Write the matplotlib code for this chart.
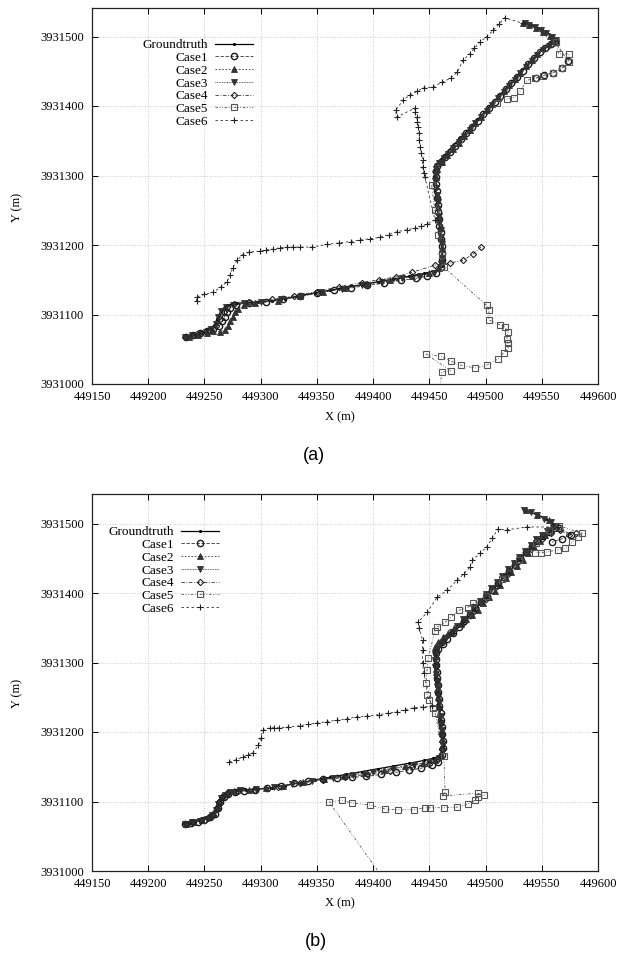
import numpy as np
import matplotlib
matplotlib.use("Agg")
import matplotlib.pyplot as plt

nan = np.nan

# ---------------- data ----------------
SERIES_NAMES = ["Groundtruth", "Case1", "Case2", "Case3", "Case4", "Case5", "Case6"]
X_TICKS = [449150, 449200, 449250, 449300, 449350, 449400, 449450, 449500, 449550, 449600]
Y_TICKS = [3931000, 3931100, 3931200, 3931300, 3931400, 3931500]
PANEL_LABELS = ["(a)", "(b)"]

GROUNDTRUTH = [
    (449233, 3931067), (449237, 3931069), (449242, 3931071), (449247, 3931073), (449252, 3931076),
    (449256, 3931080), (449259, 3931086), (449261, 3931093), (449263, 3931100), (449265, 3931106),
    (449268, 3931111), (449272, 3931114), (449278, 3931116), (449287, 3931117), (449298, 3931118),
    (449310, 3931120), (449322, 3931123), (449335, 3931127), (449348, 3931131), (449362, 3931135),
    (449376, 3931139), (449390, 3931143), (449404, 3931147), (449418, 3931151), (449432, 3931155),
    (449445, 3931159), (449453, 3931162), (449458, 3931165), (449461, 3931170), (449462, 3931180),
    (449461, 3931195), (449460, 3931210), (449459, 3931225), (449458, 3931240), (449457, 3931255),
    (449456, 3931270), (449455, 3931285), (449455, 3931300), (449455, 3931310), (449458, 3931320),
    (449464, 3931330), (449471, 3931343), (449480, 3931358), (449490, 3931375), (449500, 3931393),
    (449510, 3931411), (449520, 3931429), (449530, 3931447), (449540, 3931465), (449550, 3931481),
    (449558, 3931490), (449563, 3931494), (449560, 3931500), (449554, 3931507), (449547, 3931512),
    (449540, 3931516), (449534, 3931520),
]

# ---- panel (a) ----
CASE1_A = [
    (449234, 3931067), (449240, 3931070), (449246, 3931073), (449252, 3931076), (449258, 3931079),
    (449263, 3931083), (449266, 3931090), (449268, 3931097), (449270, 3931104), (449273, 3931110),
    (449278, 3931114), (449290, 3931116), (449305, 3931118), (449320, 3931122), (449335, 3931126),
    (449350, 3931131), (449365, 3931135), (449380, 3931138), (449395, 3931142), (449410, 3931145),
    (449425, 3931149), (449438, 3931152), (449448, 3931155), (449456, 3931160),
    (449460, 3931168), (449461, 3931178), (449461, 3931188), (449461, 3931198), (449460, 3931208),
    (449460, 3931218), (449459, 3931228), (449459, 3931238), (449458, 3931248), (449458, 3931258),
    (449457, 3931268), (449457, 3931278), (449456, 3931288), (449456, 3931298), (449456, 3931306),
    (449457, 3931314), (449460, 3931320), (449464, 3931327),
    (449468, 3931334), (449473, 3931343), (449478, 3931352), (449483, 3931361), (449488, 3931370),
    (449493, 3931379), (449498, 3931388), (449503, 3931397), (449508, 3931406), (449513, 3931415),
    (449518, 3931424), (449523, 3931433), (449528, 3931442), (449533, 3931451), (449538, 3931460),
    (449543, 3931469), (449548, 3931477), (449553, 3931484), (449558, 3931489), (449562, 3931492),
    (449573, 3931465), (449568, 3931454), (449560, 3931448), (449552, 3931444), (449545, 3931440),
]
CASE2_A = [
    (449236, 3931068), (449244, 3931071), (449252, 3931074), (449258, 3931076), (449264, 3931075),
    (449268, 3931078), (449271, 3931083), (449273, 3931090), (449275, 3931097), (449277, 3931103),
    (449280, 3931108), (449285, 3931113), (449295, 3931116), (449315, 3931120), (449335, 3931126),
    (449355, 3931132), (449375, 3931138), (449395, 3931144), (449415, 3931150), (449435, 3931155),
    (449450, 3931159), (449459, 3931167), (449461, 3931180), (449461, 3931195), (449460, 3931210),
    (449460, 3931225), (449459, 3931240), (449458, 3931255), (449457, 3931270), (449456, 3931285),
    (449456, 3931298), (449457, 3931310), (449461, 3931320), (449466, 3931329),
    (449471, 3931338), (449476, 3931347), (449481, 3931357), (449486, 3931366), (449491, 3931375),
    (449496, 3931384), (449501, 3931394), (449506, 3931403), (449511, 3931412), (449516, 3931421),
    (449521, 3931430), (449526, 3931439), (449531, 3931448), (449536, 3931457), (449541, 3931466),
    (449546, 3931475), (449551, 3931483), (449556, 3931489), (449561, 3931494), (449557, 3931501),
    (449551, 3931507), (449545, 3931512), (449539, 3931516), (449533, 3931520),
]
CASE3_A = [
    (449233, 3931067), (449239, 3931070), (449245, 3931072), (449251, 3931075), (449256, 3931079),
    (449260, 3931087), (449262, 3931096), (449265, 3931105), (449269, 3931111), (449275, 3931114),
    (449285, 3931116), (449300, 3931118), (449318, 3931122), (449336, 3931127), (449354, 3931132),
    (449372, 3931137), (449390, 3931142), (449408, 3931147), (449426, 3931152), (449442, 3931156),
    (449454, 3931160), (449460, 3931172), (449461, 3931182), (449461, 3931192), (449461, 3931202),
    (449460, 3931212), (449460, 3931222), (449459, 3931232), (449459, 3931242), (449458, 3931252),
    (449458, 3931262), (449457, 3931272), (449456, 3931282), (449455, 3931292), (449455, 3931302),
    (449456, 3931310), (449459, 3931318), (449463, 3931325),
    (449467, 3931331), (449471, 3931339), (449476, 3931348), (449481, 3931357), (449486, 3931366),
    (449491, 3931375), (449496, 3931384), (449501, 3931393), (449506, 3931402), (449511, 3931411),
    (449516, 3931420), (449521, 3931429), (449526, 3931438), (449531, 3931447), (449536, 3931456),
    (449541, 3931465), (449546, 3931473), (449551, 3931481), (449556, 3931487), (449560, 3931492),
    (449563, 3931495), (449559, 3931500), (449554, 3931505), (449549, 3931509), (449544, 3931513),
    (449539, 3931517), (449535, 3931520),
]
CASE4_A = [
    (449233, 3931067), (449240, 3931070), (449247, 3931074), (449254, 3931078), (449260, 3931084),
    (449264, 3931094), (449267, 3931104), (449270, 3931111), (449276, 3931115), (449290, 3931118),
    (449310, 3931122), (449330, 3931127), (449350, 3931133), (449370, 3931140), (449390, 3931146),
    (449405, 3931150), (449420, 3931154), (449435, 3931161), (449455, 3931171), (449468, 3931174),
    (449480, 3931178), (449489, 3931187), (449496, 3931197),
]
CASE5_A = [
    (449452, 3931286), (449455, 3931250), (449458, 3931215), (449461, 3931185), (449463, 3931168),
    (449501, 3931113), (449503, 3931106), (449503, 3931092), (449513, 3931085), (449517, 3931082),
    (449520, 3931075), (449519, 3931065), (449520, 3931059), (449520, 3931052), (449516, 3931045),
    (449511, 3931036), (449501, 3931027), (449491, 3931023), (449478, 3931027), (449469, 3931033),
    (449460, 3931040), (449447, 3931043), (449469, 3931019), (449461, 3931017), (449459, 3930985),
    (nan, nan),
    (449563, 3931492), (449565, 3931475), (449574, 3931475), (449574, 3931463), (449568, 3931454),
    (449560, 3931448), (449551, 3931443), (449544, 3931440), (449537, 3931437), (449531, 3931422),
    (449525, 3931412), (449519, 3931410), (449510, 3931405),
]
CASE6_A = [
    (449243, 3931119), (449243, 3931125), (449250, 3931129), (449258, 3931132), (449265, 3931140),
    (449270, 3931147), (449273, 3931157), (449275, 3931167), (449279, 3931178), (449284, 3931186),
    (449290, 3931190), (449299, 3931191), (449305, 3931193), (449311, 3931194), (449317, 3931196),
    (449323, 3931197), (449329, 3931197), (449335, 3931197), (449346, 3931197), (449359, 3931201),
    (449370, 3931203), (449380, 3931205), (449388, 3931207), (449397, 3931209), (449406, 3931211),
    (449414, 3931215), (449421, 3931219), (449430, 3931222), (449437, 3931224), (449443, 3931227),
    (449448, 3931230), (449455, 3931236), (449446, 3931298), (449445, 3931303), (449444, 3931312),
    (449444, 3931322), (449443, 3931332), (449442, 3931341), (449441, 3931351), (449441, 3931361),
    (449440, 3931370), (449439, 3931377), (449439, 3931384), (449437, 3931391), (449437, 3931397),
    (449421, 3931384), (449420, 3931394), (449427, 3931409), (449433, 3931416), (449439, 3931421),
    (449445, 3931426), (449453, 3931427), (449461, 3931434), (449469, 3931440), (449475, 3931449),
    (449480, 3931466), (449486, 3931475), (449490, 3931483), (449495, 3931492), (449501, 3931500),
    (449507, 3931509), (449512, 3931518), (449517, 3931527), (449533, 3931519),
]

# ---- panel (b) ----
CASE1_B = [
    (449233, 3931067), (449238, 3931069), (449244, 3931071), (449250, 3931074), (449255, 3931077),
    (449259, 3931082), (449262, 3931090), (449264, 3931099), (449267, 3931106), (449271, 3931111),
    (449277, 3931114), (449285, 3931115), (449295, 3931116), (449306, 3931119), (449318, 3931122),
    (449330, 3931126), (449342, 3931129), (449355, 3931132), (449368, 3931134), (449381, 3931135),
    (449394, 3931136), (449407, 3931139), (449420, 3931142), (449432, 3931145), (449443, 3931148),
    (449452, 3931152), (449458, 3931157), (449461, 3931167), (449462, 3931177), (449462, 3931187),
    (449461, 3931197), (449461, 3931207), (449460, 3931217), (449460, 3931227), (449459, 3931237),
    (449459, 3931247), (449458, 3931257), (449458, 3931267), (449457, 3931277), (449457, 3931287),
    (449456, 3931297), (449456, 3931305), (449456, 3931313), (449458, 3931320), (449462, 3931327),
    (449466, 3931334), (449471, 3931342), (449476, 3931351), (449481, 3931360), (449486, 3931369),
    (449491, 3931378), (449496, 3931387), (449501, 3931396), (449506, 3931405), (449511, 3931414),
    (449516, 3931423), (449521, 3931432), (449526, 3931441), (449531, 3931450), (449536, 3931459),
    (449541, 3931467), (449546, 3931475), (449551, 3931482), (449556, 3931488), (449561, 3931493),
    (449565, 3931494), (449576, 3931484), (449568, 3931478), (449559, 3931473),
]
CASE2_B = [
    (449234, 3931068), (449241, 3931070), (449248, 3931073), (449254, 3931077), (449258, 3931083),
    (449261, 3931092), (449263, 3931101), (449266, 3931108), (449270, 3931112), (449276, 3931115),
    (449290, 3931117), (449305, 3931119), (449320, 3931123), (449338, 3931128), (449356, 3931133),
    (449374, 3931137), (449392, 3931141), (449410, 3931146), (449428, 3931151), (449444, 3931155),
    (449455, 3931159), (449460, 3931168), (449461, 3931178), (449461, 3931190), (449460, 3931202),
    (449460, 3931214), (449459, 3931226), (449459, 3931238), (449458, 3931250), (449457, 3931262),
    (449457, 3931274), (449456, 3931286), (449456, 3931298), (449456, 3931310), (449455, 3931322),
    (449458, 3931330), (449462, 3931336), (449467, 3931343), (449472, 3931349), (449478, 3931356),
    (449483, 3931362), (449488, 3931368), (449493, 3931376), (449498, 3931385), (449503, 3931394),
    (449508, 3931403), (449513, 3931412), (449518, 3931421), (449523, 3931430), (449528, 3931439),
    (449533, 3931448), (449538, 3931457), (449543, 3931466), (449548, 3931475), (449553, 3931483),
    (449558, 3931490), (449563, 3931496), (449556, 3931505), (449546, 3931512), (449536, 3931519),
]
CASE3_B = [
    (449233, 3931068), (449239, 3931070), (449246, 3931072), (449252, 3931075), (449257, 3931080),
    (449260, 3931088), (449262, 3931097), (449265, 3931105), (449268, 3931110), (449273, 3931114),
    (449282, 3931116), (449296, 3931118), (449312, 3931121), (449328, 3931125), (449346, 3931130),
    (449364, 3931134), (449382, 3931138), (449400, 3931142), (449418, 3931147), (449436, 3931152),
    (449450, 3931157), (449459, 3931163), (449461, 3931173), (449461, 3931183), (449461, 3931193),
    (449461, 3931203), (449460, 3931213), (449460, 3931223), (449459, 3931233), (449459, 3931243),
    (449458, 3931253), (449458, 3931263), (449457, 3931273), (449456, 3931283), (449455, 3931293),
    (449455, 3931303), (449455, 3931312), (449457, 3931320), (449461, 3931328), (449465, 3931335),
    (449470, 3931344), (449475, 3931353), (449480, 3931362), (449485, 3931371), (449490, 3931380),
    (449495, 3931389), (449500, 3931398), (449505, 3931407), (449510, 3931416), (449515, 3931425),
    (449520, 3931434), (449525, 3931443), (449530, 3931452), (449535, 3931461), (449540, 3931469),
    (449545, 3931477), (449550, 3931484), (449555, 3931489), (449560, 3931493), (449563, 3931497),
    (449558, 3931502), (449552, 3931507), (449546, 3931512), (449540, 3931516), (449534, 3931520),
]
CASE4_B = [
    (449234, 3931067), (449240, 3931070), (449247, 3931073), (449253, 3931076), (449258, 3931081),
    (449261, 3931090), (449263, 3931099), (449266, 3931107), (449270, 3931112), (449280, 3931115),
    (449295, 3931117), (449315, 3931121), (449335, 3931126), (449355, 3931131), (449375, 3931135),
    (449395, 3931139), (449415, 3931144), (449435, 3931149), (449450, 3931154), (449458, 3931161),
    (449461, 3931175), (449461, 3931195), (449460, 3931215), (449459, 3931235), (449458, 3931255),
    (449457, 3931275), (449456, 3931295), (449456, 3931315), (449462, 3931330), (449470, 3931342),
    (449480, 3931357), (449490, 3931374), (449500, 3931392), (449510, 3931410), (449520, 3931428),
    (449530, 3931446), (449540, 3931463), (449550, 3931478), (449558, 3931487), (449566, 3931490),
    (449574, 3931484), (449580, 3931486),
]
CASE5_B = [
    (449413, 3930980), (449361, 3931099), (449372, 3931102), (449381, 3931098), (449397, 3931095),
    (449411, 3931089), (449422, 3931088), (449436, 3931088), (449446, 3931091), (449451, 3931091),
    (449463, 3931091), (449475, 3931092), (449484, 3931096), (449491, 3931102), (449493, 3931106),
    (449499, 3931109), (449493, 3931112), (449462, 3931108), (449464, 3931114), (449463, 3931165),
    (449455, 3931228), (449453, 3931234), (449450, 3931246), (449448, 3931253), (449447, 3931270),
    (449448, 3931289), (449449, 3931306), (449455, 3931346), (449457, 3931351), (449464, 3931358),
    (449469, 3931365), (449476, 3931375), (449484, 3931379), (449489, 3931385), (449500, 3931395),
    (449515, 3931420), (449530, 3931447), (449545, 3931472), (449556, 3931490), (449565, 3931497),
    (449586, 3931486), (449582, 3931481), (449577, 3931473), (449571, 3931465), (449564, 3931462),
    (449555, 3931459), (449549, 3931458), (449544, 3931458),
]
CASE6_B = [
    (449272, 3931157), (449278, 3931160), (449284, 3931164), (449289, 3931167), (449293, 3931170),
    (449298, 3931181), (449300, 3931191), (449302, 3931203), (449308, 3931206), (449312, 3931206),
    (449316, 3931206), (449324, 3931207), (449335, 3931209), (449342, 3931211), (449350, 3931213),
    (449359, 3931215), (449368, 3931217), (449377, 3931219), (449386, 3931222), (449395, 3931223),
    (449405, 3931225), (449413, 3931227), (449421, 3931229), (449428, 3931232), (449436, 3931235),
    (449444, 3931236), (449452, 3931237), (449445, 3931285), (449444, 3931300), (449444, 3931318),
    (449444, 3931332), (449441, 3931350), (449440, 3931358), (449448, 3931372), (449457, 3931394),
    (449466, 3931404), (449475, 3931419), (449481, 3931428), (449486, 3931437), (449488, 3931447),
    (449495, 3931457), (449501, 3931466), (449506, 3931479), (449511, 3931492), (449519, 3931491),
    (449537, 3931495), (449564, 3931495),
]

PANELS = [
    [GROUNDTRUTH, CASE1_A, CASE2_A, CASE3_A, CASE4_A, CASE5_A, CASE6_A],
    [GROUNDTRUTH, CASE1_B, CASE2_B, CASE3_B, CASE4_B, CASE5_B, CASE6_B],
]

# ---------------- styles ----------------
STYLES = [
    dict(color="black", lw=0.9, ls="-", marker=".", ms=2.5, mfc="black", mec="black"),
    dict(color="#333333", lw=0.6, ls=(0, (4, 2)), marker="o", ms=4.5, mfc="none", mec="#1a1a1a", mew=1.0),
    dict(color="#333333", lw=0.6, ls=(0, (2, 2)), marker="^", ms=3.8, mfc="#333333", mec="#333333", mew=0.6),
    dict(color="#333333", lw=0.6, ls=(0, (1, 1)), marker="v", ms=3.8, mfc="#333333", mec="#333333", mew=0.6),
    dict(color="#333333", lw=0.6, ls=(0, (4, 2, 1, 2)), marker="D", ms=3.2, mfc="none", mec="#222222", mew=0.8),
    dict(color="#555555", lw=0.6, ls=(0, (3, 2, 1, 2, 1, 2)), marker="s", ms=5, mfc="none", mec="#555555", mew=0.8),
    dict(color="#333333", lw=0.6, ls=(0, (3, 3)), marker="+", ms=5, mec="#222222", mew=0.8),
]

SERIF = ["Liberation Serif", "DejaVu Serif"]
plt.rcParams["font.family"] = SERIF

W, H = 633, 956
fig = plt.figure(figsize=(W / 100, H / 100), dpi=100)

# axes boxes in pixels: (left, top, right, bottom)
BOXES = [(92, 8.3, 598, 384), (92, 494, 598, 871)]
LEGEND_ANCHORS = [(253, 39.0), (219, 526.0)]
XLABEL_TOP = [411, 897]
LABEL_POS = [(314, 456), (316, 941)]

for k, (box, series) in enumerate(zip(BOXES, PANELS)):
    l, t, r, b = box
    ax_w, ax_h = r - l, b - t
    ax = fig.add_axes([l / W, 1 - b / H, ax_w / W, ax_h / H])
    for name, pts, st in zip(SERIES_NAMES, series, STYLES):
        arr = np.array(pts, dtype=float)
        ax.plot(arr[:, 0], arr[:, 1], label=name, **st)

    ax.set_xlim(449150, 449600)
    ax.set_ylim(3931000, 3931000 + ax_h / 0.695)
    ax.set_xticks(X_TICKS, labels=[str(v) for v in X_TICKS])
    ax.set_yticks(Y_TICKS, labels=[str(v) for v in Y_TICKS])
    ax.tick_params(direction="in", length=4, width=0.7, top=True, right=True,
                   labelsize=9, pad=6, colors="black")
    ax.tick_params(axis="x", pad=5)
    ax.grid(True, color="#bbbbbb", lw=0.6, ls=(0, (1, 2)))
    for s in ax.spines.values():
        s.set_linewidth(0.9)
        s.set_color("#222222")

    ax.set_xlabel("X (m)", fontsize=9)
    ax.set_ylabel("Y (m)", fontsize=9)
    ax.xaxis.set_label_coords(0.49, (b - XLABEL_TOP[k]) / ax_h)
    ax.yaxis.set_label_coords(-0.136, 0.47)

    lx, ly = LEGEND_ANCHORS[k]
    ax.legend(loc="upper right", bbox_to_anchor=((lx - l) / ax_w, (b - ly) / ax_h),
              frameon=False, markerfirst=False, numpoints=1, fontsize=9.5,
              handlelength=2.9, handletextpad=0.5, labelspacing=0.04,
              borderpad=0, borderaxespad=0)

    fig.text(LABEL_POS[k][0] / W, 1 - LABEL_POS[k][1] / H, PANEL_LABELS[k],
             ha="center", va="center", fontsize=13, family=["Liberation Sans", "DejaVu Sans"])

fig.savefig("out.png", dpi=100)
